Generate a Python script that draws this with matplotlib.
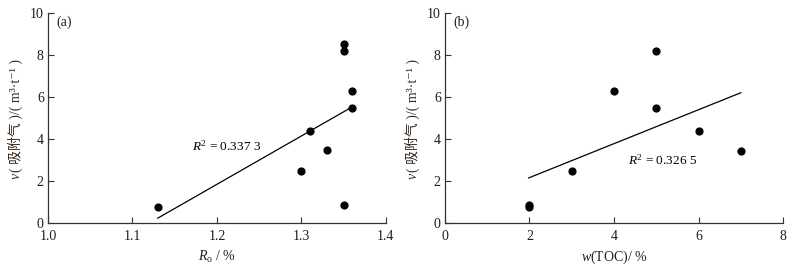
import matplotlib
matplotlib.use("Agg")
import matplotlib.pyplot as plt
import numpy as np

plt.rcParams['font.family'] = ['Liberation Serif', 'Noto Sans CJK SC', 'DejaVu Sans']
plt.rcParams['mathtext.fontset'] = 'custom'
plt.rcParams['mathtext.rm'] = 'Liberation Serif'
plt.rcParams['mathtext.it'] = 'Liberation Serif:italic'
plt.rcParams['font.size'] = 10

# panel (a): Ro vs adsorbed gas
ro = np.array([1.13, 1.30, 1.31, 1.33, 1.35, 1.35, 1.35, 1.36, 1.36])
gas_a = np.array([0.76, 2.50, 4.40, 3.48, 8.54, 8.20, 0.84, 6.31, 5.50])

# panel (b): TOC vs adsorbed gas
toc = np.array([1.98, 2.0, 3.0, 4.0, 5.0, 5.0, 6.0, 7.0])
gas_b = np.array([0.87, 0.75, 2.47, 6.31, 8.18, 5.46, 4.37, 3.43])

r2_a = "0.337 3"
r2_b = "0.326 5"

ylab_rest = '( 吸附气 )/( m³·t⁻¹ )'
txt = '#1c1c2c'
ycol = '#3a2a20'

fig = plt.figure(figsize=(8.09, 2.71), dpi=100)
ax1 = fig.add_axes([0.0593, 0.177, 0.4177, 0.775])
ax2 = fig.add_axes([0.550, 0.177, 0.418, 0.775])

panels = [
    (ax1, ro, gas_a, r2_a, '(a)', r'$R_\mathrm{o}$ / %', (1.0, 1.4), np.arange(1.0, 1.41, 0.1), '%.1f', (1.17, 3.67)),
    (ax2, toc, gas_b, r2_b, '(b)', r'$w$(TOC)/ %', (0, 8), np.arange(0, 9, 2), '%d', (4.33, 3.0)),
]

ylabels = []
for ax, x, y, r2, tag, xlab, xlim, xt, fmt, pos in panels:
    ax.scatter(x, y, s=24, color='black', zorder=3)
    k, b = np.polyfit(x, y, 1)
    xx = np.array([x.min(), x.max()])
    ax.plot(xx, k * xx + b, color='black', lw=0.9)
    ax.set_xlim(*xlim)
    ax.set_ylim(0, 10)
    ax.set_xticks(xt)
    ax.set_xticklabels([fmt % v for v in xt])
    ax.set_yticks(np.arange(0, 11, 2))
    for s in ['top', 'right']:
        ax.spines[s].set_visible(False)
    for s in ['left', 'bottom']:
        ax.spines[s].set_linewidth(0.9)
        ax.spines[s].set_color('#333333')
    ax.tick_params(direction='in', length=4, width=0.8, labelsize=10,
                   colors='#333333', labelcolor=txt, pad=3)
    ax.tick_params(axis='x', pad=5)
    ax.set_xlabel(xlab, fontsize=10, color=txt, labelpad=4)
    t = ax.text(-0.095, 0.51, ylab_rest, transform=ax.transAxes, rotation=90,
                ha='center', va='center', fontsize=10, color=ycol)
    ylabels.append((ax, t))
    ax.text(0.025, 0.955, tag, transform=ax.transAxes, fontsize=10,
            ha='left', va='center', color=txt)
    ax.text(pos[0], pos[1], r'$R^2$ = ' + r2, fontsize=9.5, ha='left',
            va='center', color='black')

# italic v placed right below the rotated label
fig.canvas.draw()
r = fig.canvas.get_renderer()
for ax, t in ylabels:
    bb = t.get_window_extent(r)
    xc, yb = fig.transFigure.inverted().transform(((bb.x0 + bb.x1) / 2, bb.y0))
    fig.text(xc, yb, 'v', rotation=90, ha='center', va='top', fontsize=10,
             style='italic', color=ycol)

fig.savefig('out.png', dpi=100)
